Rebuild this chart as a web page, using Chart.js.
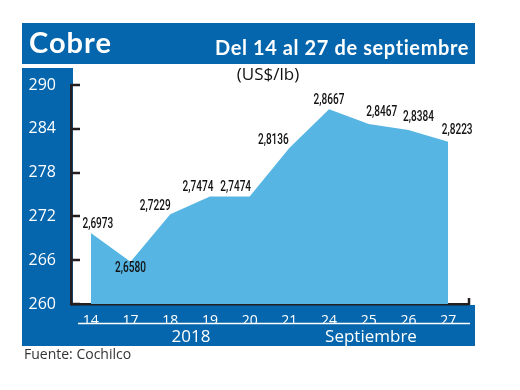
<!DOCTYPE html>
<html lang="es">
<head>
  <meta charset="UTF-8">
  <title>Cobre</title>
  <script src="https://cdn.jsdelivr.net/npm/chart.js"></script>
  <style>
    body { margin: 0; background: #fff; }
  </style>
</head>
<body>
  <canvas id="chart" width="520" height="390"></canvas>

  <script>
    // data
    const days = ["14", "17", "18", "19", "20", "21", "24", "25", "26", "27"];
    const prices = [2.6973, 2.6580, 2.7229, 2.7474, 2.7474, 2.8136, 2.8667, 2.8467, 2.8384, 2.8223]; // US$/lb
    const yTicks = [260, 266, 272, 278, 284, 290];
    const title = "Cobre";
    const period = "Del 14 al 27 de septiembre";
    const unit = "(US$/lb)";
    const year = "2018";
    const month = "Septiembre";
    const source = "Fuente: Cochilco";

    const BLUE = "#0566ad";
    const FILL = "#56b5e3";
    const INK = "#231f20";

    // label placement around each point (dx, dy), layout only
    const labelDx = [7, 0, -15, -12, -14, -16, 0, 13, 10, 9];
    const labelDy = [-8, 7, -8, -9, -9, -8, -9, -11, -12, -11];

    const cents = prices.map(p => p * 100);

    const frame = {
      id: "frame",
      beforeDraw(chart) {
        const ctx = chart.ctx;
        ctx.save();
        ctx.fillStyle = "#fff";
        ctx.fillRect(0, 0, chart.width, chart.height);
        ctx.fillStyle = BLUE;
        ctx.fillRect(22, 23, 453, 41);   // header
        ctx.fillRect(22, 68, 51, 278);   // y label column
        ctx.fillRect(22, 305, 453, 41);  // x label band
        ctx.restore();
      },
      afterDraw(chart) {
        const ctx = chart.ctx;
        const xs = chart.scales.x, ys = chart.scales.y;
        const area = chart.chartArea;
        ctx.save();

        // inward y ticks
        ctx.strokeStyle = INK;
        ctx.lineWidth = 2.5;
        yTicks.forEach(v => {
          const y = Math.round(ys.getPixelForValue(v));
          ctx.beginPath();
          ctx.moveTo(area.left, y);
          ctx.lineTo(area.left + 9, y);
          ctx.stroke();
        });
        // x axis end tick
        ctx.beginPath();
        ctx.moveTo(area.right + 1, area.bottom + 1);
        ctx.lineTo(area.right + 1, area.bottom - 6);
        ctx.stroke();

        // header texts
        ctx.fillStyle = "#fff";
        ctx.textBaseline = "alphabetic";
        ctx.textAlign = "left";
        ctx.letterSpacing = "1px";
        ctx.font = "bold 29px Lato";
        ctx.fillText(title, 29, 53);
        ctx.textAlign = "right";
        ctx.font = "bold 20px Lato";
        ctx.letterSpacing = "0.6px";
        ctx.fillText(period, 469, 55);
        ctx.letterSpacing = "0px";

        // unit
        ctx.fillStyle = "#111";
        ctx.textAlign = "center";
        ctx.font = "17px 'Open Sans'";
        ctx.fillText(unit, 268, 80);

        // bottom band
        ctx.strokeStyle = "#fff";
        ctx.lineWidth = 1.5;
        ctx.beginPath();
        ctx.moveTo(78, 323.5);
        ctx.lineTo(470, 323.5);
        ctx.stroke();
        ctx.fillStyle = "#fff";
        ctx.font = "17px 'Open Sans'";
        ctx.fillText(year, 191, 342);
        ctx.fillText(month, 371, 342);

        // source
        ctx.fillStyle = "#333";
        ctx.textAlign = "left";
        ctx.font = "14px 'Open Sans'";
        ctx.fillText(source, 24, 359);

        // value labels, condensed by a horizontal squeeze
        ctx.fillStyle = "#111";
        ctx.textAlign = "center";
        ctx.textBaseline = "middle";
        ctx.font = "500 14px Roboto";
        prices.forEach((p, i) => {
          const x = xs.getPixelForValue(i) + labelDx[i];
          const y = ys.getPixelForValue(cents[i]) + labelDy[i];
          const txt = p.toFixed(4).replace(".", ",");
          ctx.save();
          ctx.translate(x, y);
          ctx.scale(0.72, 1);
          ctx.fillText(txt, 0, 0);
          ctx.restore();
        });
        ctx.restore();
      }
    };

    new Chart(document.getElementById("chart"), {
      type: "line",
      data: {
        labels: days,
        datasets: [{
          data: cents,
          fill: "start",
          backgroundColor: FILL,
          borderWidth: 0,
          pointRadius: 0,
          tension: 0
        }]
      },
      options: {
        responsive: false,
        animation: false,
        layout: { padding: { left: 21, right: 52, top: 85, bottom: 66 } },
        plugins: { legend: { display: false }, tooltip: { enabled: false } },
        scales: {
          x: {
            offset: true,
            afterFit: s => { s.height = 20; },
            grid: { display: false },
            border: { display: true, color: INK, width: 2.5 },
            ticks: { color: "#fff", font: { family: "'Open Sans'", size: 14 }, padding: 1, maxRotation: 0 }
          },
          y: {
            min: 260,
            max: 290,
            afterFit: s => { s.width = 50; },
            afterBuildTicks: s => { s.ticks = yTicks.map(v => ({ value: v })); },
            grid: { display: false },
            border: { display: true, color: INK, width: 2.5 },
            ticks: { color: "#fff", font: { family: "'Open Sans'", size: 16 }, padding: 7 }
          }
        }
      },
      plugins: [frame]
    });
  </script>
</body>
</html>
